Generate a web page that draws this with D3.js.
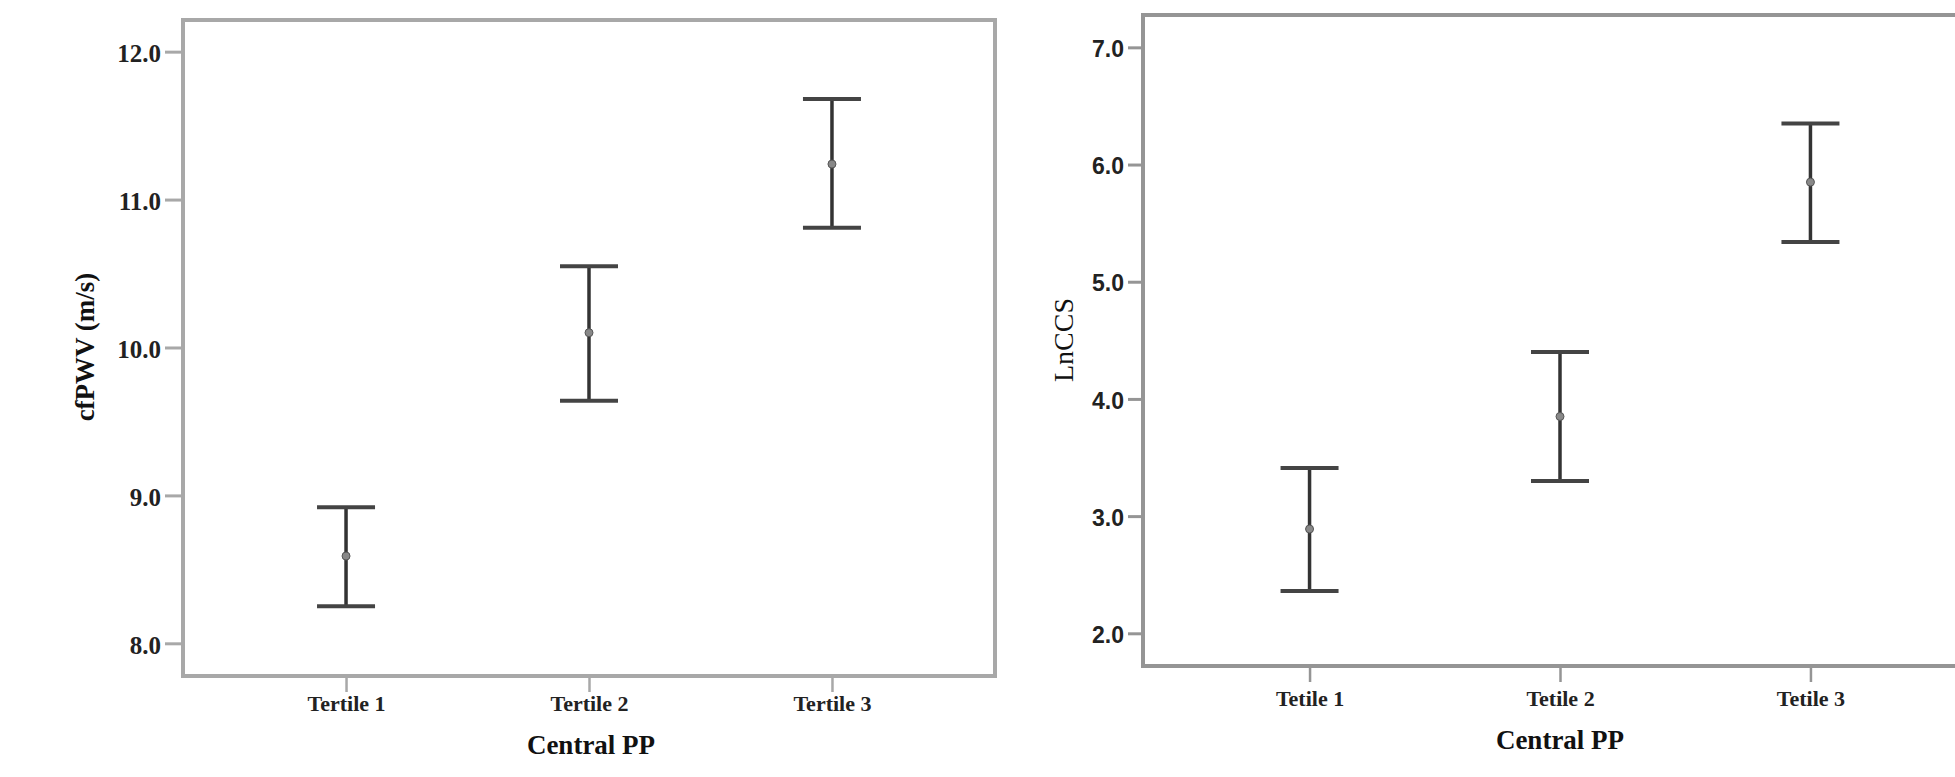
<!DOCTYPE html>
<html>
<head>
<meta charset="utf-8">
<script src="https://cdn.jsdelivr.net/npm/d3@7"></script>
<style>
  html, body { margin: 0; padding: 0; background: #fff; }
  svg { display: block; }
</style>
</head>
<body>
<svg id="chart" width="1955" height="777"></svg>
<script>
// ---- Data ----
const categoriesLeft = ["Tertile 1", "Tertile 2", "Tertile 3"];
const categoriesRight = ["Tetile 1", "Tetile 2", "Tetile 3"];

const pwvMean  = [8.59, 10.10, 11.24];
const pwvLower = [8.25, 9.64, 10.81];
const pwvUpper = [8.92, 10.55, 11.68];

const ccsMean  = [2.89, 3.85, 5.85];
const ccsLower = [2.36, 3.30, 5.34];
const ccsUpper = [3.41, 4.40, 6.35];

const pwvTicks = [8, 9, 10, 11, 12];
const ccsTicks = [2, 3, 4, 5, 6, 7];

const leftYTitle = "cfPWV (m/s)";
const rightYTitle = "LnCCS";
const xTitle = "Central PP";

// ---- Drawing ----
const svg = d3.select("#chart");
svg.append("rect").attr("width", 1955).attr("height", 777).attr("fill", "#fff");

function panel(cfg) {
  const g = svg.append("g");
  const x = d3.scalePoint().domain(cfg.cats).range([cfg.x0, cfg.x1]).padding(cfg.pad);
  const y = d3.scaleLinear().domain(cfg.yDomain).range([cfg.y1, cfg.y0]);

  // frame
  g.append("path")
    .attr("d", cfg.closed
      ? `M${cfg.x0},${cfg.y0}H${cfg.x1}V${cfg.y1}H${cfg.x0}Z`
      : `M${cfg.x1},${cfg.y0}H${cfg.x0}V${cfg.y1}H${cfg.x1}`)
    .attr("fill", "none")
    .attr("stroke", cfg.frameColor)
    .attr("stroke-width", 4);

  // y axis
  const ya = g.append("g").attr("transform", `translate(${cfg.x0 - 2},0)`)
    .call(d3.axisLeft(y).tickValues(cfg.yTicks).tickFormat(d3.format(".1f"))
      .tickSize(cfg.yTickLen).tickPadding(4));
  ya.select(".domain").remove();
  ya.selectAll(".tick line").attr("stroke", cfg.frameColor).attr("stroke-width", 3);
  ya.selectAll(".tick text")
    .attr("font-family", cfg.yTickFont)
    .attr("font-weight", "bold")
    .attr("font-size", cfg.yTickSize)
    .attr("fill", "#222")
    .attr("dy", "0.4em");

  // x axis
  const xa = g.append("g").attr("transform", `translate(0,${cfg.y1 + 2})`)
    .call(d3.axisBottom(x).tickSize(14).tickPadding(6));
  xa.select(".domain").remove();
  xa.selectAll(".tick line").attr("stroke", cfg.frameColor).attr("stroke-width", 2.5);
  xa.selectAll(".tick text")
    .attr("font-family", "Liberation Serif")
    .attr("font-weight", "bold")
    .attr("font-size", 22)
    .attr("fill", "#222")
    .attr("y", cfg.xLabelY - cfg.y1 - 2)
    .attr("dy", 0);

  // error bars
  const capHalf = 29;
  const rows = cfg.cats.map((c, i) => ({ c, m: cfg.mean[i], lo: cfg.lower[i], hi: cfg.upper[i] }));
  const eb = g.append("g").selectAll("g").data(rows).join("g");
  eb.append("line")
    .attr("x1", d => x(d.c)).attr("x2", d => x(d.c))
    .attr("y1", d => y(d.hi)).attr("y2", d => y(d.lo))
    .attr("stroke", "#333").attr("stroke-width", 3.5);
  eb.append("line")
    .attr("x1", d => x(d.c) - capHalf).attr("x2", d => x(d.c) + capHalf)
    .attr("y1", d => y(d.hi)).attr("y2", d => y(d.hi))
    .attr("stroke", "#444").attr("stroke-width", 4);
  eb.append("line")
    .attr("x1", d => x(d.c) - capHalf).attr("x2", d => x(d.c) + capHalf)
    .attr("y1", d => y(d.lo)).attr("y2", d => y(d.lo))
    .attr("stroke", "#444").attr("stroke-width", 4);
  eb.append("circle")
    .attr("cx", d => x(d.c)).attr("cy", d => y(d.m))
    .attr("r", 4)
    .attr("fill", "#888").attr("stroke", "#555").attr("stroke-width", 1);

  // titles
  g.append("text")
    .attr("transform", `translate(${cfg.yTitleX},${cfg.yTitleY}) rotate(-90)`)
    .attr("text-anchor", "middle")
    .attr("font-family", "Liberation Serif")
    .attr("font-weight", cfg.yTitleWeight)
    .attr("font-size", cfg.yTitleSize)
    .attr("fill", "#111")
    .text(cfg.yTitle);

  g.append("text")
    .attr("x", cfg.xTitleX).attr("y", cfg.xTitleY)
    .attr("text-anchor", "middle")
    .attr("font-family", "Liberation Serif")
    .attr("font-weight", "bold")
    .attr("font-size", 27)
    .attr("fill", "#111")
    .text(xTitle);
}

panel({
  cats: categoriesLeft, mean: pwvMean, lower: pwvLower, upper: pwvUpper,
  x0: 183, x1: 995, y0: 20, y1: 676, pad: 0.671,
  yDomain: [7.779, 12.214], yTicks: pwvTicks,
  closed: true, frameColor: "#a8a8a8",
  yTickLen: 16, yTickFont: "Liberation Serif", yTickSize: 25,
  xLabelY: 711,
  yTitle: leftYTitle, yTitleX: 94, yTitleY: 347, yTitleWeight: "bold", yTitleSize: 27,
  xTitleX: 591, xTitleY: 754
});

panel({
  cats: categoriesRight, mean: ccsMean, lower: ccsLower, upper: ccsUpper,
  x0: 1143, x1: 1977, y0: 15, y1: 666, pad: 0.665,
  yDomain: [1.721, 7.276], yTicks: ccsTicks,
  closed: true, frameColor: "#959595",
  yTickLen: 13, yTickFont: "Liberation Sans", yTickSize: 23,
  xLabelY: 706,
  yTitle: rightYTitle, yTitleX: 1073, yTitleY: 340, yTitleWeight: "normal", yTitleSize: 28,
  xTitleX: 1560, xTitleY: 749
});
</script>
</body>
</html>
